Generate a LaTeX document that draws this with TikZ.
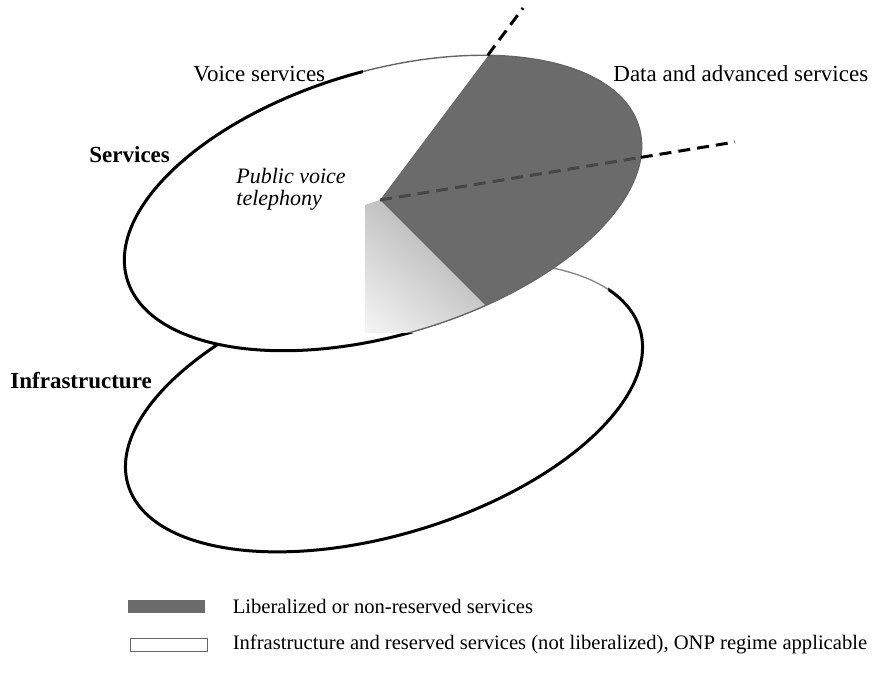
\documentclass[tikz,border=0pt]{standalone}
\usepackage{fontspec}
\setmainfont{Liberation Serif}
\usetikzlibrary{positioning, intersections}

\definecolor{liberal}{gray}{0.42}

\tikzset{
  rim/.style={line width=1.5pt},
  faint rim/.style={line width=0.7pt, draw=black!45},
  cut line/.style={line width=1.5pt, dash pattern=on 6pt off 3.5pt},
  tag/.style={font=\fontsize{11.5}{13}\selectfont, inner sep=0pt},
  bold tag/.style={tag, font=\fontsize{11.5}{13}\selectfont\bfseries},
  keybox/.style={minimum width=38.5pt, minimum height=6.5pt, inner sep=0pt},
  keytext/.style={font=\fontsize{10.3}{12}\selectfont, inner sep=0pt}
}

\begin{document}
\begin{tikzpicture}[x=0.5pt, y=-0.5pt]
  \useasboundingbox (0,0) rectangle (879,679);

  \coordinate (svc) at (383,203);
  \coordinate (infra) at (384,407);
  \coordinate (apex) at (380,200);
  \coordinate (topend) at (523,8);
  \coordinate (rightend) at (735,142);

  % infrastructure ring, partly hidden
  \draw[rim] (infra) ellipse [x radius=267.5, y radius=127.5, rotate=17];
  % services ring on top of it
  \filldraw[rim, fill=white, name path=svcrim]
    (svc) ellipse [x radius=267, y radius=132, rotate=16.6];

  % the shaded patch
  \begin{scope}
    \fill[white] (363,44) -- (650,44) -- (650,253) -- (608,253)
      -- (608,333) -- (363,333) -- cycle;
    \clip (363,44) -- (650,44) -- (650,253) -- (608,253)
      -- (608,333) -- (363,333) -- cycle;
    \draw[faint rim] (infra) ellipse [x radius=267.5, y radius=127.5, rotate=17];
    \fill[white] (svc) ellipse [x radius=267, y radius=132, rotate=16.6];
    \begin{scope}
      \clip (svc) ellipse [x radius=267, y radius=132, rotate=16.6];
      \shade[top color=black!42, bottom color=white, shading angle=-40]
        (apex) -- (600,420) -- (365,420) -- (365,205) -- cycle;
      \fill[liberal] (apex) -- (560,-40) -- (800,-40) -- (800,420)
        -- (600,420) -- cycle;
      \draw[cut line, draw=black!72] (apex) -- (rightend);
    \end{scope}
    \draw[faint rim, draw=black!60]
      (svc) ellipse [x radius=267, y radius=132, rotate=16.6];
  \end{scope}

  % border lines between the areas
  \path[name path=upray] (apex) -- (topend);
  \path[name path=sideray] (apex) -- (rightend);
  \path[name intersections={of=svcrim and upray, by=topcut}];
  \path[name intersections={of=svcrim and sideray, by=sidecut}];
  \draw[cut line] (topcut) -- (topend);
  \draw[cut line] (sidecut) -- (rightend);

  % labels
  \node[tag, anchor=base west] (voice) at (193,82) {Voice services};
  \node[tag, anchor=base west] (data) at (613,82) {Data and advanced services};
  \node[bold tag, anchor=base west] (svclabel) at (89,163) {Services};
  \node[bold tag, anchor=base west] (infralabel) at (10,389) {Infrastructure};
  \node[tag, font=\fontsize{11}{11}\selectfont\itshape, align=left,
    anchor=north west] (pvt) at (236,168) {Public voice\\telephony};

  % legend
  \node[keybox, fill=liberal] (libkey) at (166.5,606.5) {};
  \node[keytext, right=13.5pt of libkey] (libtext)
    {Liberalized or non-reserved services};
  \node[keybox, draw=black!60, line width=0.4pt, fill=white] (onpkey)
    at (168.5,644.5) {};
  \node[keytext, right=12.5pt of onpkey] (onptext)
    {Infrastructure and reserved services (not liberalized), ONP regime applicable};
\end{tikzpicture}
\end{document}
